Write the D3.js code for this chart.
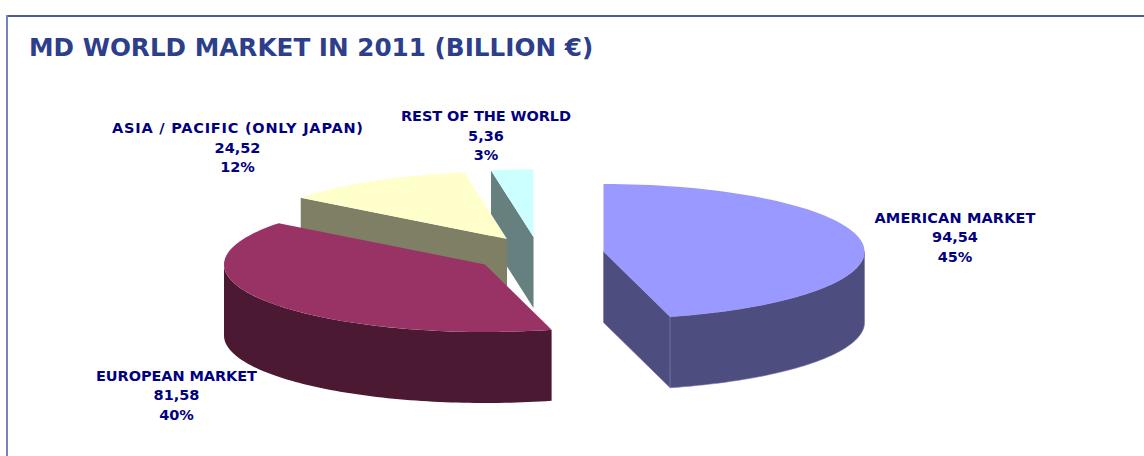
<!DOCTYPE html>
<html>
<head>
<meta charset="utf-8">
<script src="https://cdn.jsdelivr.net/npm/d3@7"></script>
<style>
  html, body { margin: 0; padding: 0; background: #fff; }
  svg { display: block; }
  text { font-family: "DejaVu Sans", Verdana, sans-serif; font-weight: bold; }
</style>
</head>
<body>
<svg id="chart" width="1144" height="456"></svg>
<script>
// Market figures, billion euro
const categories = ["AMERICAN MARKET", "EUROPEAN MARKET", "ASIA / PACIFIC (ONLY JAPAN)", "REST OF THE WORLD"];
const values = [94.54, 81.58, 24.52, 5.36];
const valueLabels = ["94,54", "81,58", "24,52", "5,36"];
const percentLabels = ["45%", "40%", "12%", "3%"];
const topColors = ["#9999ff", "#993366", "#ffffcc", "#ccffff"];
const sideColors = ["#4d4d7f", "#4c1933", "#7f7f66", "#667f7f"];

// Pie geometry: tilted ellipse, extrusion depth, exploded slice hubs and label anchors
const radiusX = 261, radiusY = 67.5, depth = 71;
const hubs = [[603.5, 251.5], [485, 264.5], [507, 239], [533.5, 237]];
const labelAnchors = [[955, 222.5], [176.5, 380.5], [237.5, 133], [486, 121]];
const nameWidths = [161, 161, 251, 170];
const lineGap = 19.6;

const svg = d3.select("#chart");

// Frame around the slide panel: only top and left edges fall inside the view
svg.append("line").attr("x1", 6).attr("x2", 1144).attr("y1", 16).attr("y2", 16)
  .attr("stroke", "#4a5a9e").attr("stroke-width", 2);
svg.append("line").attr("x1", 7).attr("x2", 7).attr("y1", 15).attr("y2", 456)
  .attr("stroke", "#7583bd").attr("stroke-width", 2);

svg.append("text").attr("x", 29).attr("y", 55.5)
  .attr("font-size", 24.7).attr("fill", "#2d3e8b")
  .text("MD WORLD MARKET IN 2011 (BILLION €)");

const slices = d3.pie().sort(null).startAngle(0).endAngle(2 * Math.PI)(values);

// Project a pie angle onto the tilted ellipse around a hub
const project = (hub, angle, drop = 0) => [
  hub[0] + radiusX * Math.sin(angle),
  hub[1] - radiusY * Math.cos(angle) + drop
];
const rimPoints = (hub, a0, a1, drop = 0) =>
  d3.range(0, 81).map(i => project(hub, a0 + (a1 - a0) * i / 80, drop));

const line = d3.line();
const closed = pts => line(pts) + "Z";

// Draw from the back slice to the front one so nearer slices overlap farther ones
d3.range(slices.length - 1, -1, -1).forEach(i => {
  const s = slices[i], hub = hubs[i];
  const g = svg.append("g");
  const edge = i === 0 ? "#7474a6" : "none";

  // Cut face along the slice's clockwise end
  const endPt = project(hub, s.endAngle);
  const startPt = project(hub, s.startAngle);
  if (i >= 2) {
    g.append("path")
      .attr("d", closed([hub, startPt, [startPt[0], startPt[1] + depth], [hub[0], hub[1] + depth]]))
      .attr("fill", sideColors[i]);
  }
  if (i === 0) {
    g.append("path")
      .attr("d", closed([hub, endPt, [endPt[0], endPt[1] + depth], [hub[0], hub[1] + depth]]))
      .attr("fill", sideColors[i]).attr("stroke", edge).attr("stroke-width", 0.6);
  }

  // Outer wall: only the part of the rim facing the viewer
  const a0 = Math.max(s.startAngle, Math.PI / 2);
  const a1 = Math.min(s.endAngle, 3 * Math.PI / 2);
  if (a1 > a0) {
    const upper = rimPoints(hub, a0, a1);
    const lower = rimPoints(hub, a1, a0, depth);
    g.append("path").attr("d", closed(upper.concat(lower)))
      .attr("fill", sideColors[i]).attr("stroke", edge).attr("stroke-width", 0.6);
  }

  // Top face
  g.append("path")
    .attr("d", closed([hub].concat(rimPoints(hub, s.startAngle, s.endAngle))))
    .attr("fill", topColors[i]);
});

// Three-line labels: name, value, share
categories.forEach((name, i) => {
  const t = svg.append("text")
    .attr("text-anchor", "middle").attr("font-size", 14.5).attr("fill", "#000080");
  [name, valueLabels[i], percentLabels[i]].forEach((txt, j) => {
    const span = t.append("tspan").attr("x", labelAnchors[i][0])
      .attr("y", labelAnchors[i][1] + j * lineGap).text(txt);
    if (j === 0) span.attr("textLength", nameWidths[i]).attr("lengthAdjust", "spacing");
  });
});
</script>
</body>
</html>
